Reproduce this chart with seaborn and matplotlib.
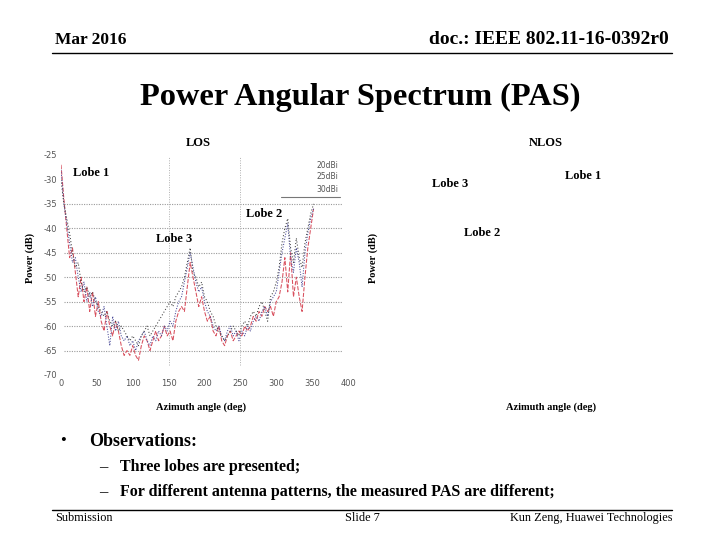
import matplotlib
matplotlib.use("Agg")
import matplotlib.pyplot as plt
import seaborn as sns
import pandas as pd
from matplotlib.lines import Line2D

# ---- data ----
angles = list(range(0, 353, 4))
p20 = [-27, -34, -40, -46, -44, -49, -54, -50, -55, -52, -57, -53, -58, -55, -59, -61,
       -57, -60, -62, -59, -61, -64, -66, -65, -66, -64, -66, -67, -64, -62, -63, -65,
       -63, -61, -63, -62, -60, -62, -61, -63, -59, -57, -56, -57, -52, -47, -50, -53,
       -56, -54, -57, -59, -58, -61, -62, -60, -63, -64, -62, -61, -63, -62, -61, -62,
       -60, -61, -60, -58, -59, -57, -58, -56, -57, -56, -58, -55, -54, -51, -46, -53,
       -45, -54, -50, -54, -57, -50, -44, -40, -36]
p25 = [-28, -35, -39, -43, -47, -46, -50, -53, -51, -55, -53, -56, -54, -57, -58, -56,
       -60, -64, -58, -61, -59, -62, -63, -62, -64, -63, -65, -63, -62, -61, -63, -64,
       -62, -63, -61, -62, -60, -61, -59, -60, -57, -55, -54, -51, -48, -45, -48, -51,
       -53, -52, -55, -57, -58, -60, -61, -60, -62, -63, -61, -60, -62, -61, -63, -61,
       -62, -60, -61, -59, -58, -59, -57, -56, -58, -55, -54, -53, -49, -45, -42, -39,
       -46, -49, -44, -47, -52, -45, -41, -38, -36]
p30 = [-30, -35, -38, -41, -45, -48, -47, -51, -53, -52, -54, -53, -55, -56, -57, -58,
       -57, -59, -60, -59, -61, -60, -61, -62, -63, -62, -63, -64, -62, -61, -60, -62,
       -61, -60, -59, -58, -57, -56, -55, -56, -54, -53, -52, -50, -47, -44, -49, -50,
       -52, -51, -54, -55, -57, -58, -60, -61, -62, -63, -62, -61, -60, -61, -62, -60,
       -59, -60, -58, -57, -58, -56, -55, -57, -59, -54, -53, -51, -48, -43, -40, -38,
       -44, -47, -42, -46, -48, -43, -40, -37, -35]
series_names = ["20dBi", "25dBi", "30dBi"]
x_ticks = [0, 50, 100, 150, 200, 250, 300, 350, 400]
y_ticks = [-25, -30, -35, -40, -45, -50, -55, -60, -65, -70]

df = pd.concat([
    pd.DataFrame({"angle": angles, "power": vals, "antenna": name})
    for name, vals in zip(series_names, [p20, p25, p30])
], ignore_index=True)

sns.set_style("white")
plt.rcParams["font.family"] = ["Liberation Serif", "DejaVu Serif"]

W, H = 720, 540
fig = plt.figure(figsize=(7.2, 5.4), dpi=100)

def fx(px):
    return px / W

def fy(py):
    return 1 - py / H

# axes: data x 0..400 -> px 61..348 ; y -25..-70 -> px 155..375
ax = fig.add_axes([fx(61), fy(375), fx(348) - fx(61), fy(155) - fy(375)])

# grid
for yv in [-35, -40, -45, -50, -55, -60, -65]:
    ax.plot([4, 392], [yv, yv], color="#9a9a9a", lw=0.8, ls=(0, (1, 1.2)), zorder=0)
for xv in [150, 250]:
    ax.plot([xv, xv], [-68, -25.5], color="#b0b0b0", lw=0.7, ls=(0, (1, 1.5)), zorder=0)

palette = {"20dBi": "#d8505e", "25dBi": "#4a4a98", "30dBi": "#404040"}
dashes = {"20dBi": (4, 1.5), "25dBi": (1, 1.5), "30dBi": (1, 2)}
sns.lineplot(data=df, x="angle", y="power", hue="antenna", style="antenna",
             palette=palette, dashes=dashes, linewidth=0.75, legend=False,
             sort=False, ax=ax, estimator=None)

ax.set_xlim(0, 400)
ax.set_ylim(-70, -25)
ax.set_xticks(x_ticks)
ax.set_yticks(y_ticks)
ax.set_xticklabels([str(t) for t in x_ticks], family="DejaVu Sans", fontsize=6, color="#555555")
ax.set_yticklabels([str(t) for t in y_ticks], family="DejaVu Sans", fontsize=6, color="#555555")
ax.tick_params(length=0, pad=3)
for s in ax.spines.values():
    s.set_visible(False)
ax.set_xlabel("")
ax.set_ylabel("")
ax.grid(False)

# legend-like text
for name, py in zip(series_names, [166, 177, 189]):
    fig.text(fx(327), fy(py), name, family="DejaVu Sans", fontsize=5.5, color="#555555",
             ha="center", va="center")
fig.add_artist(Line2D([fx(281), fx(340)], [fy(197), fy(197)], color="#777777", lw=0.8))

bold = dict(family="Liberation Serif", fontweight="bold", color="black")
reg = dict(family="Liberation Serif", color="black")

# header
fig.text(fx(55), fy(40), "Mar 2016", fontsize=12.5, ha="left", va="center", **bold)
fig.text(fx(669), fy(40), "doc.: IEEE 802.11-16-0392r0", fontsize=14, ha="right", va="center", **bold)
fig.add_artist(Line2D([fx(52), fx(672)], [fy(53), fy(53)], color="black", lw=1.0))

# title
fig.text(fx(360), fy(97), "Power Angular Spectrum (PAS)", fontsize=23.3, ha="center", va="center", **bold)

# panel labels
fig.text(fx(198), fy(143), "LOS", fontsize=9, ha="center", va="center", **bold)
fig.text(fx(546), fy(143), "NLOS", fontsize=9, ha="center", va="center", **bold)
lobes = [("Lobe 1", 91, 173), ("Lobe 3", 174, 239), ("Lobe 2", 264, 214),
         ("Lobe 3", 450, 184), ("Lobe 1", 583, 176), ("Lobe 2", 482, 233)]
for txt, px, py in lobes:
    fig.text(fx(px), fy(py), txt, fontsize=9, ha="center", va="center", **bold)
fig.text(fx(30), fy(258), "Power (dB)", fontsize=7.5, rotation=90, ha="center", va="center", **bold)
fig.text(fx(373), fy(258), "Power (dB)", fontsize=7.5, rotation=90, ha="center", va="center", **bold)
fig.text(fx(201), fy(407), "Azimuth angle (deg)", fontsize=7.5, ha="center", va="center", **bold)
fig.text(fx(551), fy(407), "Azimuth angle (deg)", fontsize=7.5, ha="center", va="center", **bold)

# observations
fig.text(fx(63), fy(441), "\u2022", fontsize=12, ha="center", va="center", **reg)
fig.text(fx(89), fy(441), "Observations:", fontsize=13, ha="left", va="center", **bold)
fig.text(fx(103), fy(467), "\u2013", fontsize=12, ha="center", va="center", **reg)
fig.text(fx(120), fy(467), "Three lobes are presented;", fontsize=11.5, ha="left", va="center", **bold)
fig.text(fx(103), fy(492), "\u2013", fontsize=12, ha="center", va="center", **reg)
fig.text(fx(120), fy(492), "For different antenna patterns, the measured PAS are different;", fontsize=11.5,
         ha="left", va="center", **bold)

# footer
fig.add_artist(Line2D([fx(52), fx(672)], [fy(510), fy(510)], color="black", lw=1.0))
fig.text(fx(55), fy(518), "Submission", fontsize=8.8, ha="left", va="center", **reg)
fig.text(fx(362), fy(518), "Slide 7", fontsize=8.8, ha="center", va="center", **reg)
fig.text(fx(672), fy(518), "Kun Zeng, Huawei Technologies", fontsize=8.8, ha="right", va="center", **reg)

fig.savefig("out.png", dpi=100)
